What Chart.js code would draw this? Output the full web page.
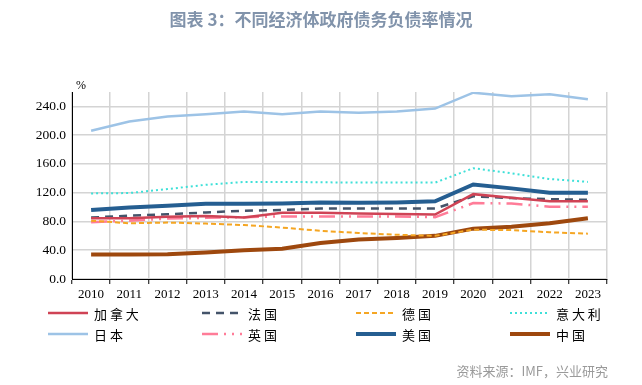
<!DOCTYPE html>
<html>
<head>
<meta charset="utf-8">
<script src="https://cdn.jsdelivr.net/npm/chart.js@4"></script>
<style>
  body { margin: 0; background: #fff; }
  #wrap { position: relative; width: 642px; height: 385px; }
  #title {
    position: absolute; left: 0; top: 6px; width: 642px; text-align: center;
    font: bold 17px "Noto Sans CJK SC", sans-serif; color: #8193ab;
  }
  #source {
    position: absolute; right: 34px; top: 361px;
    font: 13px "Noto Sans CJK SC", sans-serif; color: #9a9a9a;
  }
  canvas { position: absolute; left: 0; top: 0; }
</style>
</head>
<body>
<div id="wrap">
  <canvas id="debtChart" width="642" height="385"></canvas>
  <div id="title">图表 3：不同经济体政府债务负债率情况</div>
  <div id="source">资料来源：IMF，兴业研究</div>
</div>
<script>
// categories
const years = ["2010", "2011", "2012", "2013", "2014", "2015", "2016", "2017", "2018", "2019", "2020", "2021", "2022", "2023"];

// series values (% of GDP)
const canada  = [84.5, 84.5, 86.5, 87.5, 85.5, 92, 92, 91, 90.5, 89.7, 118, 113, 108, 108];
const france  = [85.5, 88, 90, 92.5, 95, 96, 98, 98, 98, 98, 115, 112.5, 111, 110];
const germany = [81, 77.5, 78.5, 77, 75, 71.5, 67, 64, 61.5, 60, 68.5, 68, 65, 63];
const italy   = [119, 119.5, 125, 131, 135, 135, 134.5, 134, 134, 134, 154, 147, 139, 135];
const japan   = [206, 219, 226, 229, 233, 229, 233, 231, 233, 237, 259, 254, 257, 250];
const uk      = [79, 81, 84, 85, 86, 87, 87, 87, 87, 86, 105.5, 105, 100.5, 100.5];
const usa     = [96, 99.5, 102, 104.5, 104.5, 105, 106.5, 106, 106.5, 108, 131.5, 126, 120, 120];
const china   = [34, 34, 34.5, 37, 40, 42, 50, 55, 57, 60, 70, 72.5, 77.5, 84.5];

// y tick labels
const yTicks = [0, 40, 80, 120, 160, 200, 240];

const seriesNames = ["加拿大", "法国", "德国", "意大利", "日本", "英国", "美国", "中国"];

function line(label, data, color, width, dash) {
  return {
    label: label,
    data: data,
    borderColor: color,
    backgroundColor: color,
    borderWidth: width,
    borderDash: dash || [],
    pointRadius: 0,
    tension: 0,
    fill: false,
  };
}

// custom 4-column legend below the axis, drawn from the datasets
const gridLegend = {
  id: "gridLegend",
  afterDraw(chart) {
    const ctx = chart.ctx;
    ctx.save();
    // % unit above the y axis
    ctx.fillStyle = "#000";
    ctx.font = "12px 'Liberation Serif', serif";
    ctx.textBaseline = "alphabetic";
    ctx.fillText("%", chart.chartArea.left + 4, chart.chartArea.top - 3);

    chart.data.datasets.forEach((ds, i) => {
      const col = i % 4;
      const row = Math.floor(i / 4);
      const x0 = 48 + col * 154;
      const y = 313 + row * 21;
      ctx.beginPath();
      ctx.strokeStyle = ds.borderColor;
      ctx.lineWidth = ds.borderWidth;
      ctx.setLineDash(ds.borderDash);
      ctx.moveTo(x0, y);
      ctx.lineTo(x0 + 40, y);
      ctx.stroke();
      ctx.setLineDash([]);
      ctx.fillStyle = "#000";
      ctx.font = "13px 'Noto Sans CJK SC', sans-serif";
      ctx.textBaseline = "middle";
      ctx.fillText(ds.label.split("").join(" "), x0 + 46, y + 1);
    });
    ctx.restore();
  },
};

new Chart(document.getElementById("debtChart"), {
  type: "line",
  data: {
    labels: years,
    datasets: [
      line(seriesNames[0], canada, "#cf4355", 2.5),
      line(seriesNames[1], france, "#44546a", 2.5, [8, 6]),
      line(seriesNames[2], germany, "#f5a623", 2, [5, 3]),
      line(seriesNames[3], italy, "#3ee0d8", 2, [2, 3]),
      line(seriesNames[4], japan, "#9dc3e6", 2.5),
      line(seriesNames[5], uk, "#ff7c98", 2.5, [16, 6, 2, 6, 2, 6]),
      line(seriesNames[6], usa, "#255e91", 4),
      line(seriesNames[7], china, "#9e480e", 4),
    ],
  },
  options: {
    responsive: false,
    animation: false,
    layout: { padding: { top: 92, right: 35, bottom: 76, left: 0 } },
    plugins: {
      legend: { display: false },
      tooltip: { enabled: false },
    },
    scales: {
      x: {
        offset: true,
        grid: {
          offset: true,
          color: "#d4d4d4",
          lineWidth: 1.5,
          tickColor: "#000",
          tickLength: 5,
          tickWidth: 1,
        },
        border: { color: "#000", width: 1 },
        ticks: {
          color: "#000",
          font: { family: "'Liberation Serif', serif", size: 13 },
          padding: 3,
          maxRotation: 0,
          autoSkip: false,
        },
        afterFit(scale) { scale.height = 30; },
      },
      y: {
        min: 0,
        max: 260,
        grid: { color: "#d4d4d4", lineWidth: 1.5, drawTicks: false },
        border: { color: "#000", width: 1 },
        ticks: {
          color: "#000",
          font: { family: "'Liberation Serif', serif", size: 13.5 },
          padding: 6,
          callback: (v) => v.toFixed(1),
        },
        afterBuildTicks(scale) {
          scale.ticks = yTicks.map((v) => ({ value: v }));
        },
        afterFit(scale) { scale.width = 72; },
      },
    },
  },
  plugins: [gridLegend],
});
</script>
</body>
</html>
